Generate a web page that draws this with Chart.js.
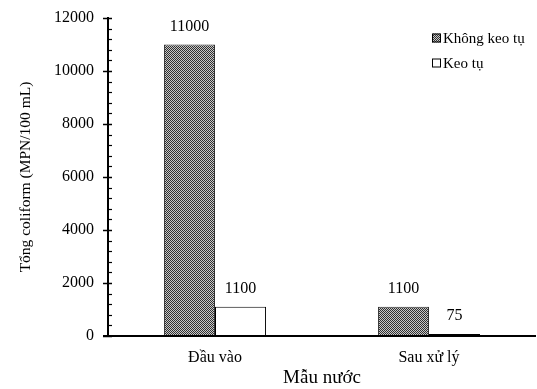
<!DOCTYPE html>
<html><head><meta charset="utf-8">
<script src="https://cdn.jsdelivr.net/npm/chart.js@4/dist/chart.umd.min.js"></script>
<style>html,body{margin:0;padding:0;background:#fff}#wrap{width:537px;height:389px}</style>
</head><body><div id="wrap"><canvas id="c" width="537" height="389"></canvas></div>
<script>
const categories = ["Đầu vào", "Sau xử lý"];
const seriesNames = ["Không keo tụ", "Keo tụ"];
const khongKeoTu = [11000, 1100];
const keoTu = [1100, 75];
const yTicks = [0, 2000, 4000, 6000, 8000, 10000, 12000];
const FONT = "'Liberation Serif', 'Times New Roman', serif";

const ctx0 = document.getElementById('c').getContext('2d');
const pat = ctx0.createPattern((()=>{const p=document.createElement('canvas');p.width=2;p.height=2;const g=p.getContext('2d');g.fillStyle='#c8c8c8';g.fillRect(0,0,2,2);g.fillStyle='#303030';g.fillRect(0,0,1,1);g.fillRect(1,1,1,1);return p;})(),'repeat');

const decor = {
  id: 'decor',
  afterDraw(chart) {
    const c = chart.ctx, y = chart.scales.y;
    const L = chart.chartArea.left;
    c.save();
    c.strokeStyle = '#000'; c.lineWidth = 1.5;
    yTicks.forEach(v => {
      const py = Math.round(y.getPixelForValue(v)) + 0.5;
      c.beginPath(); c.moveTo(L - 5, py); c.lineTo(L + 4, py); c.stroke();
    });
    c.lineWidth = 1.2;
    for (let i = 0; i < yTicks.length - 1; i++) {
      const step = (yTicks[i+1] - yTicks[i]) / 5;
      for (let k = 1; k < 5; k++) {
        const py = Math.round(y.getPixelForValue(yTicks[i] + k*step)) + 0.5;
        c.beginPath(); c.moveTo(L, py); c.lineTo(L + 4, py); c.stroke();
      }
    }
    c.lineWidth = 2;
    const by = y.getPixelForValue(0);
    c.beginPath(); c.moveTo(L - 5, by); c.lineTo(chart.chartArea.right, by); c.stroke();
    c.fillStyle = '#000'; c.font = '16px ' + FONT; c.textAlign = 'center'; c.textBaseline = 'alphabetic';
    chart.data.datasets.forEach((ds, di) => {
      chart.getDatasetMeta(di).data.forEach((bar, i) => {
        c.fillText(String(ds.data[i]), bar.x, bar.y - 14);
      });
    });
    const lx = 432, ly = [38, 63];
    c.textAlign = 'left'; c.textBaseline = 'middle'; c.font = '15px ' + FONT;
    chart.data.datasets.forEach((ds, di) => {
      c.fillStyle = ds.backgroundColor;
      c.fillRect(lx, ly[di] - 4.5, 9, 9);
      c.lineWidth = 1; c.strokeStyle = '#000';
      c.strokeRect(lx + 0.5, ly[di] - 4, 8, 8);
      c.fillStyle = '#000';
      c.fillText(ds.label, lx + 11, ly[di] + 1);
    });
    c.restore();
  }
};

new Chart(document.getElementById('c'), {
  type: 'bar',
  data: {
    labels: categories,
    datasets: [
      { label: seriesNames[0], data: khongKeoTu, backgroundColor: pat, borderColor: '#333', borderWidth: 1 },
      { label: seriesNames[1], data: keoTu, backgroundColor: '#ffffff', borderColor: '#000', borderWidth: 1 }
    ]
  },
  options: {
    responsive: false, animation: false, devicePixelRatio: 1,
    layout: { padding: { top: 18, right: 1, left: 0, bottom: 0 } },
    plugins: { legend: { display: false }, tooltip: { enabled: false } },
    datasets: { bar: { categoryPercentage: 0.477, barPercentage: 1.0 } },
    scales: {
      x: {
        grid: { display: false, drawTicks: false },
        border: { display: false },
        ticks: { color: '#000', font: { family: FONT, size: 16 }, padding: 12 },
        title: { display: true, text: 'Mẫu nước', color: '#000', font: { family: FONT, size: 19 }, padding: { top: 0, bottom: 0 } },
        afterFit(s) { s.height = 53; s.paddingLeft = 0; s.paddingRight = 0; }
      },
      y: {
        min: 0, max: 12000,
        grid: { display: false, drawTicks: false },
        border: { display: true, color: '#000', width: 2 },
        ticks: { stepSize: 2000, color: '#000', font: { family: FONT, size: 16 }, padding: 14, callback: v => String(v) },
        title: { display: true, text: 'Tổng coliform (MPN/100 mL)', color: '#000', font: { family: FONT, size: 15.5 }, padding: { top: 17, bottom: 0 } },
        afterFit(s) { s.width = 108; s.paddingTop = 0; s.paddingBottom = 0; }
      }
    }
  },
  plugins: [decor]
});
</script></body></html>
